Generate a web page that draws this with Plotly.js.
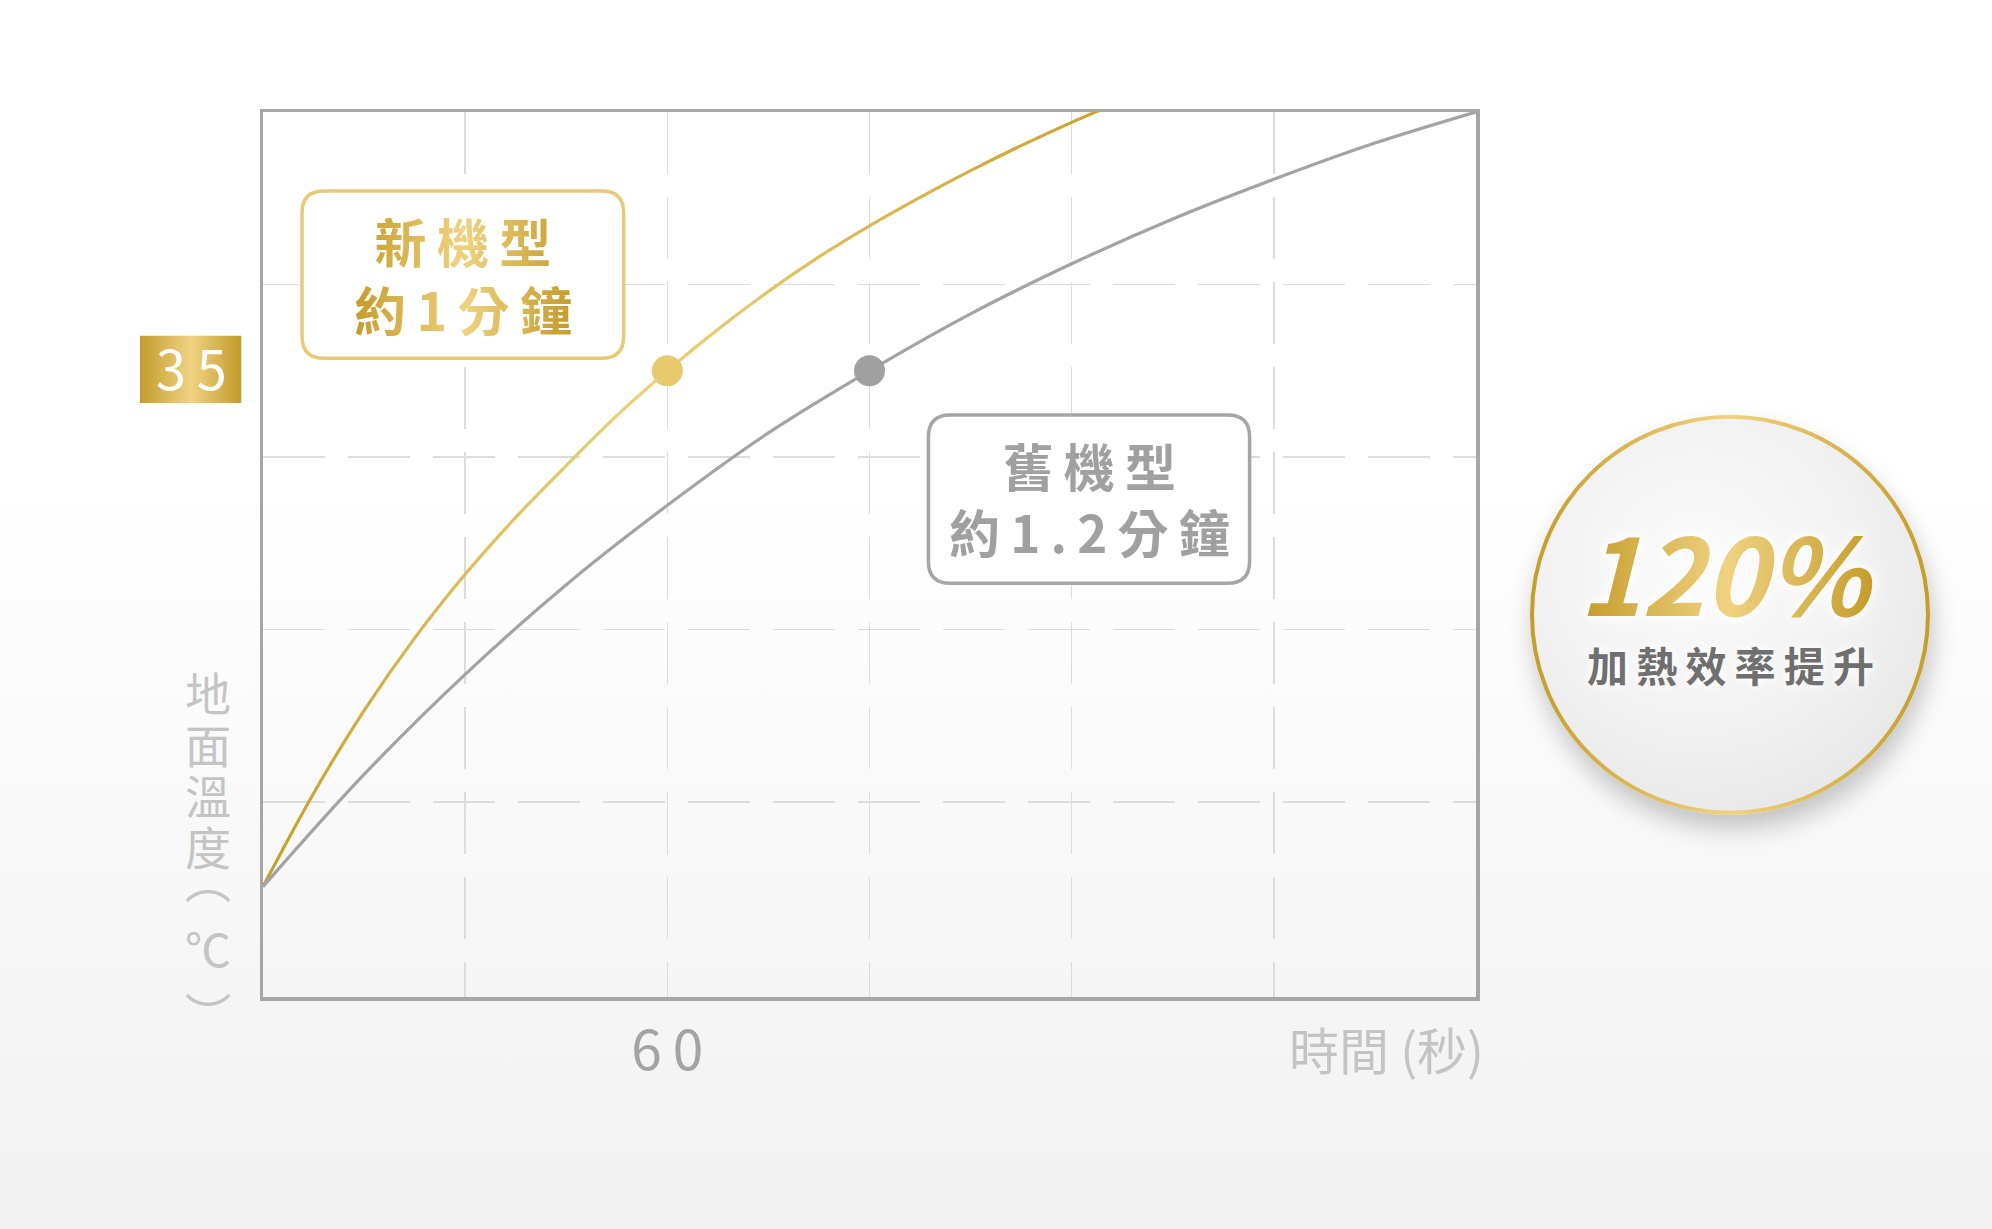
<!DOCTYPE html>
<html lang="zh-Hant">
<head>
<meta charset="utf-8">
<script src="https://cdn.plot.ly/plotly-3.0.1.min.js"></script>
<style>
  html,
  body {
    margin: 0;
    padding: 0;
  }
  body {
    width: 1992px;
    height: 1229px;
    overflow: hidden;
    background: linear-gradient(to bottom, #ffffff 0%, #ffffff 40%, #f1f1f1 100%);
  }
  #chart {
    width: 1992px;
    height: 1229px;
  }
</style>
</head>
<body>
<!-- gradients used by the gold line and gold texts -->
<svg width="0" height="0" style="position: absolute">
  <defs>
    <linearGradient id="goldText" x1="0" y1="0" x2="1" y2="0">
      <stop offset="0" stop-color="#c49c2b" />
      <stop offset="0.5" stop-color="#efd281" />
      <stop offset="1" stop-color="#c49c2b" />
    </linearGradient>
    <linearGradient id="goldLine" x1="0" y1="1" x2="1" y2="0">
      <stop offset="0" stop-color="#c69e2a" />
      <stop offset="0.55" stop-color="#edd07c" />
      <stop offset="1" stop-color="#c8a02c" />
    </linearGradient>
  </defs>
</svg>
<div id="chart"></div>
<script>
// Data

const xRange = [0, 180]; // 秒
const yRange = [-1.3, 50]; // ℃

// 新機型
const newX = [0, 7.5, 15, 22.5, 30, 37.5, 45, 52.5, 60, 67.5, 75, 82.5, 90, 97.5, 105, 112.5, 120, 127.5];
const newY = [5.1, 10.5, 15.3, 19.5, 23.2, 26.5, 29.5, 32.4, 35, 37.4, 39.6, 41.6, 43.4, 45.05, 46.6, 48.05, 49.4, 50.65];

// 舊機型
const oldX = [0, 15, 30, 45, 60, 75, 90, 105, 120, 135, 150, 165, 180];
const oldY = [5.1, 11.6, 17.4, 22.6, 27.2, 31.4, 35, 38.3, 41.2, 43.8, 46.1, 48.2, 50];

const newPointX = [60];
const newPointY = [35];
const oldPointX = [90];
const oldPointY = [35];

const xTickVals = [60];
const xTickText = ["6\u20090"];
const xGridVals = [30, 60, 90, 120, 150];
const yTickVals = [35];
const yTickText = ["3\u20095"];
const yGridVals = [10, 20, 30, 40];

// Page geometry (pixels)

const W = 1992;
const H = 1229;
const M = { l: 263, r: 516, t: 112, b: 232 };
const PW = W - M.l - M.r;
const PH = H - M.t - M.b;

const px2x = (px) => (px - M.l) / PW;
const py2y = (py) => (H - M.b - py) / PH;

const FONT = '"Noto Sans CJK TC", "Noto Sans", sans-serif';
const GOLD = "#dab752";
const GRAY_LINE = "#a3a3a3";
const GRID = "#dcdcdc";
const GRID_DASH = "62px,23px";
const TS = "\u2009"; // thin space for the spaced-out labels

const roundRect = function (x0, y0, x1, y1, r) {
  const X = px2x;
  const Y = py2y;
  return (
    `M${X(x0 + r)},${Y(y0)} L${X(x1 - r)},${Y(y0)} ` +
    `Q${X(x1)},${Y(y0)} ${X(x1)},${Y(y0 + r)} L${X(x1)},${Y(y1 - r)} ` +
    `Q${X(x1)},${Y(y1)} ${X(x1 - r)},${Y(y1)} L${X(x0 + r)},${Y(y1)} ` +
    `Q${X(x0)},${Y(y1)} ${X(x0)},${Y(y1 - r)} L${X(x0)},${Y(y0 + r)} ` +
    `Q${X(x0)},${Y(y0)} ${X(x0 + r)},${Y(y0)} Z`
  );
};

const svgUri = (svg) => "data:image/svg+xml;charset=utf-8," + encodeURIComponent(svg);

const imageAt = function (source, left, top, w, h) {
  return {
    source: source,
    xref: "paper",
    yref: "paper",
    x: px2x(left),
    y: py2y(top),
    sizex: w / PW,
    sizey: h / PH,
    xanchor: "left",
    yanchor: "top",
    sizing: "stretch",
    layer: "below",
  };
};

// Decorations drawn as images

const tagSvg = `<svg xmlns='http://www.w3.org/2000/svg' width='102' height='68' viewBox='0 0 102 68' preserveAspectRatio='none'>
<defs><linearGradient id='g' x1='0' y1='0' x2='1' y2='0'>
<stop offset='0' stop-color='#c39b2b'/><stop offset='0.5' stop-color='#efd383'/><stop offset='1' stop-color='#c39b2b'/>
</linearGradient></defs>
<rect width='102' height='68' fill='url(#g)'/></svg>`;

const badgeSvg = `<svg xmlns='http://www.w3.org/2000/svg' width='520' height='520' viewBox='0 0 520 520'>
<defs>
<radialGradient id='bf' cx='0.42' cy='0.38' r='0.65'>
<stop offset='0' stop-color='#fbfbfb'/><stop offset='0.6' stop-color='#f2f2f2'/><stop offset='1' stop-color='#e8e8e8'/>
</radialGradient>
<linearGradient id='bs' x1='0' y1='0' x2='1' y2='0'>
<stop offset='0' stop-color='#c59d2c'/><stop offset='0.5' stop-color='#f0d27f'/><stop offset='1' stop-color='#c59d2c'/>
</linearGradient>
<filter id='sh' x='-20%' y='-20%' width='140%' height='150%'>
<feGaussianBlur in='SourceAlpha' stdDeviation='12'/><feOffset dx='3' dy='14' result='b'/>
<feFlood flood-color='#000' flood-opacity='0.22'/><feComposite in2='b' operator='in'/>
<feMerge><feMergeNode/><feMergeNode in='SourceGraphic'/></feMerge>
</filter>
</defs>
<circle cx='260' cy='260' r='198' fill='url(#bf)' stroke='url(#bs)' stroke-width='4' filter='url(#sh)'/>
</svg>`;

// Annotations

const annotations = [];
const goldAnnIdx = [];

const addText = function (text, px, py, font, opts = {}, gold = false) {
  if (gold) goldAnnIdx.push(annotations.length);
  annotations.push(
    Object.assign(
      {
        text: text,
        xref: "paper",
        yref: "paper",
        x: px2x(px),
        y: py2y(py),
        xanchor: "center",
        yanchor: "middle",
        showarrow: false,
        font: Object.assign({ family: FONT }, font),
      },
      opts
    )
  );
};

// y axis title, one character per row (the vertical brackets sit off-centre in their em box)
const yTitleChars = ["地", "面", "溫", "度", "︵", "℃", "︶"];
const yTitleRows = [691.5, 742.5, 793.5, 844.5, 878, 946.5, 1012];
yTitleChars.forEach((ch, i) => {
  addText(ch, 208, yTitleRows[i], { size: 46, color: "#c4c4c4" });
});

addText("時間 (秒)", 1486, 1048, { size: 50, color: "#c4c4c4" }, { xanchor: "right" });

addText(
  ["新", "機", "型"].join(TS) + "<br>" + ["約", "1", "分", "鐘"].join(TS),
  462.5,
  274,
  { size: 52, color: GOLD, weight: "bold" },
  {},
  true
);

addText(
  ["舊", "機", "型"].join(TS) + "<br>" + ["約", "1", ".", "2", "分", "鐘"].join(TS),
  1089,
  498,
  { size: 51, color: "#a0a0a0", weight: "bold" }
);

addText(
  "120%",
  1727,
  570,
  {
    size: 106,
    color: GOLD,
    weight: "bold",
    style: "italic",
    shadow: "0px 0px 10px #ffffff, 0px 0px 18px #ffffff",
  },
  {},
  true
);

addText("加熱效率提升".split("").join(TS), 1730, 663.5, {
  size: 41,
  color: "#6f6f6f",
  weight: "bold",
  shadow: "0px 0px 8px #ffffff, 0px 0px 14px #ffffff",
});

// Traces

const data = [
  {
    x: newX,
    y: newY,
    type: "scatter",
    mode: "lines",
    line: { color: GOLD, width: 3.2, shape: "spline", smoothing: 1 },
    hoverinfo: "skip",
  },
  {
    x: oldX,
    y: oldY,
    type: "scatter",
    mode: "lines",
    line: { color: GRAY_LINE, width: 3.2, shape: "spline", smoothing: 1 },
    hoverinfo: "skip",
  },
  {
    x: newPointX,
    y: newPointY,
    type: "scatter",
    mode: "markers",
    marker: { size: 31, color: "#e8c96f" },
    cliponaxis: false,
    hoverinfo: "skip",
  },
  {
    x: oldPointX,
    y: oldPointY,
    type: "scatter",
    mode: "markers",
    marker: { size: 31, color: "#a0a0a0" },
    cliponaxis: false,
    hoverinfo: "skip",
  },
];

const gridMinor = function (vals) {
  return {
    tickmode: "array",
    tickvals: vals,
    ticks: "",
    showgrid: true,
    gridcolor: GRID,
    gridwidth: 1.6,
    griddash: GRID_DASH,
  };
};

const layout = {
  width: W,
  height: H,
  margin: { l: M.l, r: M.r, t: M.t, b: M.b, pad: 0 },
  paper_bgcolor: "rgba(0,0,0,0)",
  plot_bgcolor: "rgba(0,0,0,0)",
  showlegend: false,
  font: { family: FONT },
  xaxis: {
    range: xRange,
    showline: true,
    mirror: true,
    linecolor: "#a6a6a6",
    linewidth: 3.5,
    zeroline: false,
    ticks: "",
    tickmode: "array",
    tickvals: xTickVals,
    ticktext: xTickText,
    tickfont: { size: 55, color: "#a3a3a3" },
    ticklabelstandoff: 3,
    showgrid: true,
    gridcolor: GRID,
    gridwidth: 1.6,
    griddash: GRID_DASH,
    minor: gridMinor(xGridVals),
    fixedrange: true,
  },
  yaxis: {
    range: yRange,
    showline: true,
    mirror: true,
    linecolor: "#a6a6a6",
    linewidth: 3.5,
    zeroline: false,
    ticks: "",
    tickmode: "array",
    tickvals: yTickVals,
    ticktext: yTickText,
    tickfont: { size: 54, color: "#ffffff" },
    ticklabelstandoff: 22,
    showgrid: false,
    minor: gridMinor(yGridVals),
    fixedrange: true,
  },
  shapes: [
    {
      type: "path",
      xref: "paper",
      yref: "paper",
      path: roundRect(302, 191, 623.7, 358.3, 22),
      fillcolor: "#ffffff",
      line: { color: "#e8c978", width: 3.5 },
      layer: "above",
    },
    {
      type: "path",
      xref: "paper",
      yref: "paper",
      path: roundRect(928.4, 415, 1249.6, 583.3, 22),
      fillcolor: "#ffffff",
      line: { color: "#a6a6a6", width: 3.5 },
      layer: "above",
    },
  ],
  images: [
    imageAt(svgUri(tagSvg), 139.7, 335.5, 101.8, 67.5),
    imageAt(svgUri(badgeSvg), 1470, 354.7, 520, 520),
  ],
  annotations: annotations,
};

Plotly.newPlot("chart", data, layout, {
  displayModeBar: false,
  staticPlot: true,
}).then((gd) => {
  // gold gradient on the new-model curve and the gold texts
  const lines = gd.querySelectorAll(".scatterlayer .trace .js-line");
  if (lines[0]) lines[0].style.stroke = "url(#goldLine)";

  gd.querySelectorAll(".annotation").forEach((el) => {
    if (goldAnnIdx.includes(Number(el.getAttribute("data-index")))) {
      const txt = el.querySelector(".annotation-text");
      if (txt) txt.style.fill = "url(#goldText)";
    }
  });
});
</script>
</body>
</html>
